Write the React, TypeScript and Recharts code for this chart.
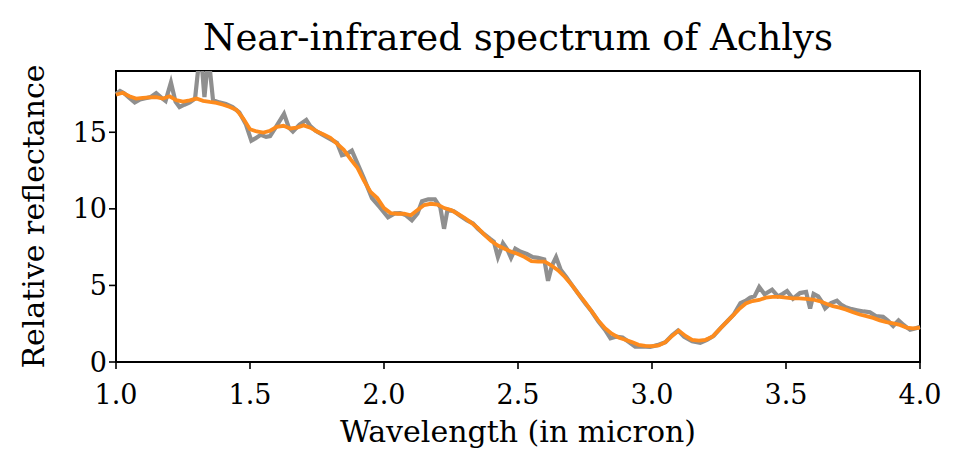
import { Label, Line, LineChart, ReferenceArea, XAxis, YAxis } from 'recharts'

// measured spectrum (noisy)
const rawWavelength = [
  1.0, 1.015, 1.03, 1.05, 1.07, 1.09, 1.11, 1.13, 1.15, 1.17, 1.185, 1.205, 1.222, 1.237, 1.255, 1.275, 1.295,
  1.315, 1.33, 1.345, 1.362, 1.385, 1.41, 1.435, 1.46, 1.485, 1.505, 1.52, 1.54, 1.56, 1.575, 1.597, 1.627, 1.645,
  1.66, 1.685, 1.71, 1.725, 1.745, 1.77, 1.8, 1.825, 1.843, 1.862, 1.88, 1.9, 1.925, 1.955, 1.985, 2.015, 2.04,
  2.06, 2.08, 2.104, 2.125, 2.142, 2.165, 2.19, 2.21, 2.224, 2.237, 2.26, 2.284, 2.31, 2.332, 2.35, 2.37, 2.395,
  2.41, 2.425, 2.444, 2.46, 2.474, 2.49, 2.51, 2.533, 2.555, 2.575, 2.598, 2.612, 2.627, 2.642, 2.66, 2.68, 2.7,
  2.725, 2.75, 2.775, 2.8, 2.825, 2.845, 2.865, 2.89, 2.91, 2.937, 2.96, 2.993, 3.02, 3.05, 3.075, 3.097, 3.12,
  3.15, 3.18, 3.205, 3.23, 3.255, 3.28, 3.305, 3.33, 3.35, 3.366, 3.383, 3.4, 3.42, 3.448, 3.47, 3.488, 3.504,
  3.526, 3.552, 3.575, 3.59, 3.603, 3.62, 3.635, 3.646, 3.668, 3.69, 3.705, 3.72, 3.745, 3.765, 3.79, 3.813,
  3.835, 3.862, 3.88, 3.9, 3.92, 3.94, 3.963, 3.985, 4.0,
]
const rawReflectance = [
  17.5, 17.7, 17.55, 17.25, 16.95, 17.15, 17.22, 17.3, 17.55, 17.25, 17.05, 18.25, 17.0, 16.65, 16.8, 16.95, 17.2,
  20.5, 17.3, 20.0, 17.1, 16.95, 16.85, 16.65, 16.3, 15.5, 14.45, 14.6, 14.83, 14.7, 14.75, 15.35, 16.2, 15.3,
  15.05, 15.5, 15.8, 15.4, 15.1, 14.85, 14.55, 14.3, 13.5, 13.6, 13.8, 13.0, 12.0, 10.7, 10.1, 9.45, 9.7,
  9.72, 9.6, 9.25, 9.7, 10.5, 10.62, 10.62, 10.1, 8.7, 9.95, 9.85, 9.55, 9.25, 9.05, 8.7, 8.4, 8.05,
  7.85, 6.85, 7.75, 7.35, 6.8, 7.4, 7.2, 7.05, 6.85, 6.8, 6.7, 5.3, 6.3, 6.85, 6.0, 5.55, 5.05,
  4.45, 3.85, 3.3, 2.65, 2.1, 1.55, 1.65, 1.6, 1.35, 1.0, 1.02, 0.98, 1.1, 1.3, 1.75, 2.05, 1.65,
  1.35, 1.25, 1.45, 1.7, 2.2, 2.65, 3.1, 3.85, 4.0, 4.2, 4.3, 4.9, 4.42, 4.72, 4.28, 4.45, 4.63,
  4.13, 4.5, 4.57, 3.5, 4.45, 4.28, 3.9, 3.5, 3.85, 4.0, 3.75, 3.6, 3.45, 3.38, 3.3, 3.25,
  3.0, 2.95, 2.7, 2.35, 2.72, 2.4, 2.1, 2.2, 2.3,
]

// smoothed spectrum, every 0.025 micron
const smoothWavelength = [
  1.0, 1.025, 1.05, 1.075, 1.1, 1.125, 1.15, 1.175, 1.2, 1.225, 1.25, 1.275, 1.3, 1.325, 1.35, 1.375, 1.4, 1.425,
  1.45, 1.475, 1.5, 1.525, 1.55, 1.575, 1.6, 1.625, 1.65, 1.675, 1.7, 1.725, 1.75, 1.775, 1.8, 1.825, 1.85, 1.875,
  1.9, 1.925, 1.95, 1.975, 2.0, 2.025, 2.05, 2.075, 2.1, 2.125, 2.15, 2.175, 2.2, 2.225, 2.25, 2.275, 2.3, 2.325,
  2.35, 2.375, 2.4, 2.425, 2.45, 2.475, 2.5, 2.525, 2.55, 2.575, 2.6, 2.625, 2.65, 2.675, 2.7, 2.725, 2.75, 2.775,
  2.8, 2.825, 2.85, 2.875, 2.9, 2.925, 2.95, 2.975, 3.0, 3.025, 3.05, 3.075, 3.1, 3.125, 3.15, 3.175, 3.2, 3.225,
  3.25, 3.275, 3.3, 3.325, 3.35, 3.375, 3.4, 3.425, 3.45, 3.475, 3.5, 3.525, 3.55, 3.575, 3.6, 3.625, 3.65, 3.675,
  3.7, 3.725, 3.75, 3.775, 3.8, 3.825, 3.85, 3.875, 3.9, 3.925, 3.95, 3.975, 4.0,
]
const smoothReflectance = [
  17.45, 17.58, 17.35, 17.2, 17.25, 17.28, 17.3, 17.2, 17.35, 17.1, 17.0, 17.08, 17.2, 17.05, 16.98, 16.92, 16.8, 16.65,
  16.45, 15.9, 15.2, 15.05, 14.98, 15.1, 15.35, 15.42, 15.25, 15.3, 15.45, 15.3, 15.05, 14.85, 14.64, 14.25, 13.85, 13.25,
  12.7, 11.85, 11.1, 10.7, 10.05, 9.72, 9.68, 9.68, 9.58, 9.92, 10.25, 10.33, 10.28, 10.05, 9.92, 9.68, 9.42, 9.1,
  8.75, 8.3, 7.9, 7.6, 7.4, 7.2, 7.05, 6.85, 6.58, 6.55, 6.55, 6.3, 5.98, 5.55, 5.05, 4.45, 3.9, 3.3,
  2.7, 2.2, 1.85, 1.6, 1.45, 1.3, 1.12, 1.05, 1.04, 1.08, 1.3, 1.7, 2.05, 1.7, 1.45, 1.4, 1.45, 1.65,
  2.1, 2.55, 3.0, 3.45, 3.82, 3.98, 4.05, 4.2, 4.25, 4.25, 4.2, 4.15, 4.15, 4.12, 4.08, 3.98, 3.8, 3.65,
  3.55, 3.42, 3.25, 3.1, 3.0, 2.88, 2.72, 2.6, 2.52, 2.42, 2.25, 2.2, 2.24,
]

const xTicks = [1.0, 1.5, 2.0, 2.5, 3.0, 3.5, 4.0]
const yTicks = [0, 5, 10, 15]

const rawData = rawWavelength.map((x, i) => ({ x, y: rawReflectance[i] }))
const smoothData = smoothWavelength.map((x, i) => ({ x, y: smoothReflectance[i] }))

const FONT = "'DejaVu Serif', serif"
const tickStyle = { fontFamily: FONT, fontSize: 27, fill: '#000' }
const labelStyle = { fontFamily: FONT, fontSize: 30, fill: '#000' }

export default function App() {
  return (
    <div style={{ position: 'fixed', left: 0, top: 0, width: 960, height: 464, background: '#fff' }}>
      <div
        style={{
          position: 'absolute',
          left: 116,
          width: 804,
          top: 19,
          lineHeight: '37px',
          textAlign: 'center',
          fontFamily: FONT,
          fontSize: 37,
          color: '#000',
        }}
      >
        Near-infrared spectrum of Achlys
      </div>
      <LineChart width={960} height={464} margin={{ top: 71, right: 40, bottom: 0, left: 0 }}>
        <XAxis
          dataKey="x"
          type="number"
          domain={[1, 4]}
          ticks={xTicks}
          tickFormatter={(v: number) => v.toFixed(1)}
          allowDuplicatedCategory={false}
          axisLine={false}
          tickSize={7}
          tickMargin={16}
          tickLine={{ stroke: '#000', strokeWidth: 1.6 }}
          tick={tickStyle}
          height={102}
        >
          <Label value="Wavelength (in micron)" position="insideBottom" offset={22} style={labelStyle} />
        </XAxis>
        <YAxis
          type="number"
          domain={[0, 19]}
          ticks={yTicks}
          allowDataOverflow
          axisLine={false}
          tickSize={7}
          tickLine={{ stroke: '#000', strokeWidth: 1.6 }}
          tick={tickStyle}
          width={116}
        >
          <Label
            value="Relative reflectance"
            angle={-90}
            position="insideLeft"
            offset={33}
            style={{ ...labelStyle, textAnchor: 'middle' }}
          />
        </YAxis>
        <Line
          data={rawData}
          dataKey="y"
          type="linear"
          stroke="#8f8f8f"
          strokeWidth={4.2}
          dot={false}
          isAnimationActive={false}
        />
        <Line
          data={smoothData}
          dataKey="y"
          type="linear"
          stroke="#fd8b1d"
          strokeWidth={3.8}
          dot={false}
          isAnimationActive={false}
        />
        <ReferenceArea x1={1} x2={4} y1={0} y2={19} fill="none" stroke="#000" strokeWidth={2} ifOverflow="visible" />
      </LineChart>
    </div>
  )
}
